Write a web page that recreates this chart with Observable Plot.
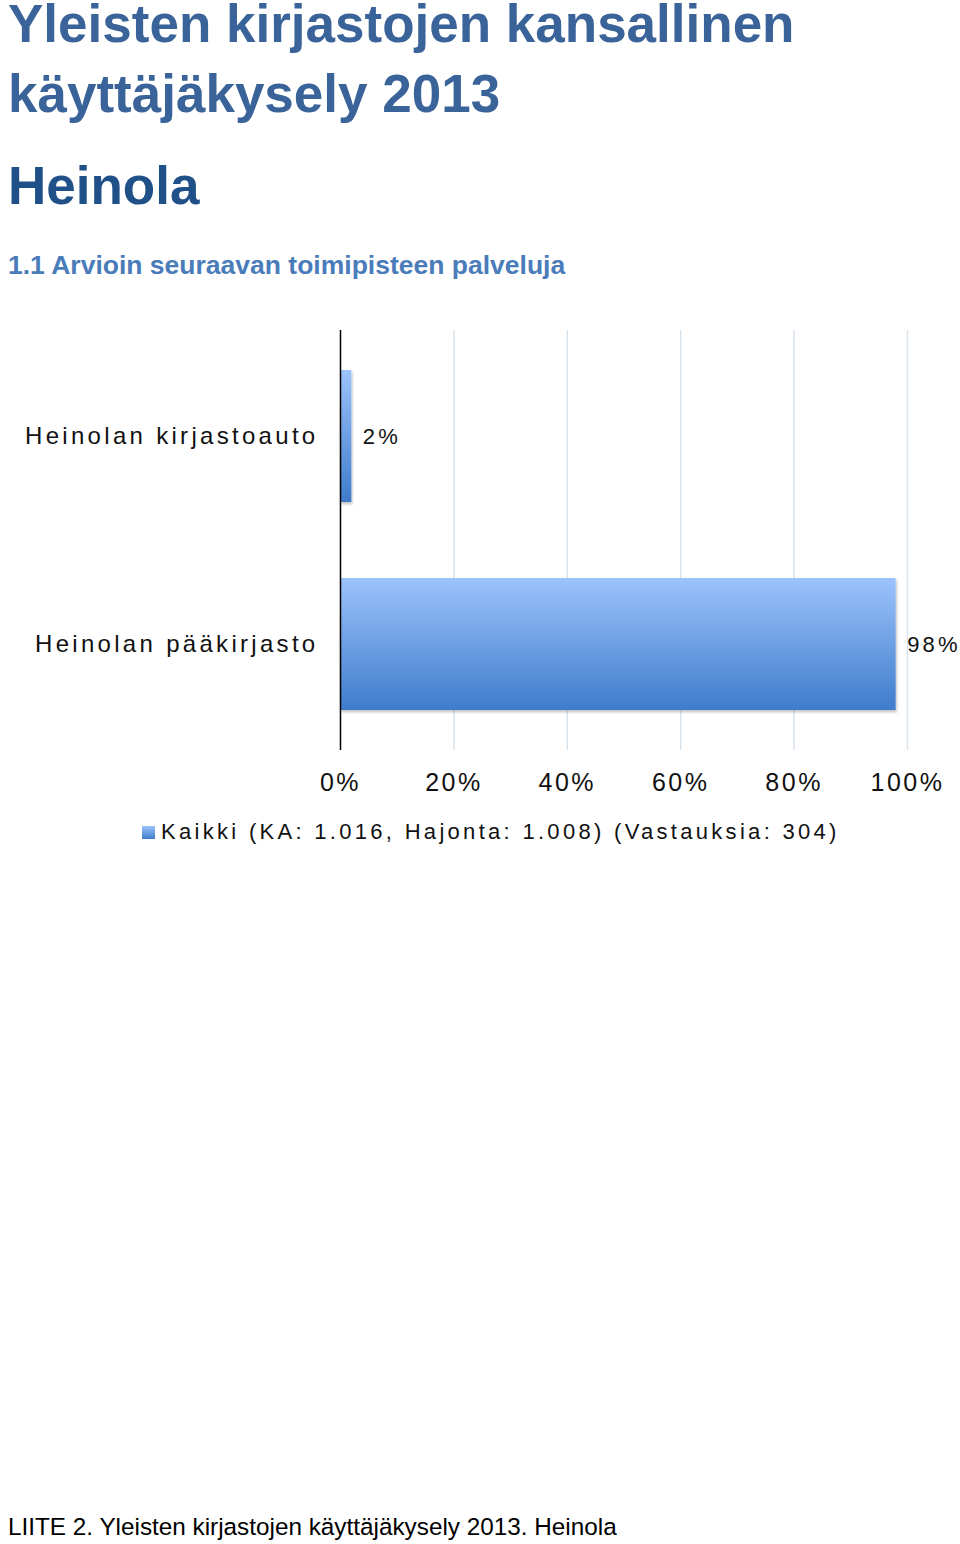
<!DOCTYPE html>
<html>
<head>
<meta charset="utf-8">
<script src="https://cdn.jsdelivr.net/npm/d3@7"></script>
<script src="https://cdn.jsdelivr.net/npm/@observablehq/plot@0.6"></script>
<style>
  html, body { margin: 0; padding: 0; background: #fff; }
  body { width: 960px; height: 1544px; position: relative; overflow: hidden; font-family: "Liberation Sans", Arial, Helvetica, sans-serif; }
  .abs { position: absolute; left: 8px; line-height: 1.15; white-space: nowrap; }
  .title { font-size: 53px; font-weight: bold; color: #3a6399; line-height: 0.92; }
  .place { font-size: 53px; font-weight: bold; color: #1f5088; line-height: 0.92; }
  .sub { font-size: 26.5px; font-weight: bold; color: #4a7cba; }
  .foot { font-size: 24.3px; color: #000; }
  #chart { position: absolute; left: 0; top: 320px; }
  #legend { position: absolute; left: 142px; top: 821px; display: flex; align-items: center; font-size: 22px; letter-spacing: 3.3px; color: #111; line-height: 1; white-space: nowrap; }
  #legend .sw { width: 13px; height: 13px; margin-right: 6px; background: linear-gradient(#9cc3fc, #3f7ccb); }
</style>
</head>
<body>
<div class="abs title" style="top:0px">Yleisten kirjastojen kansallinen</div>
<div class="abs title" style="top:70px">käyttäjäkysely 2013</div>
<div class="abs place" style="top:162px">Heinola</div>
<div class="abs sub" style="top:249.6px">1.1 Arvioin seuraavan toimipisteen palveluja</div>
<div id="chart"></div>
<div id="legend"></div>
<div class="abs foot" style="top:1513.4px">LIITE 2. Yleisten kirjastojen käyttäjäkysely 2013. Heinola</div>
<script>
// ---- data ----
const categories = ["Heinolan kirjastoauto", "Heinolan pääkirjasto"];
const values = [2, 98];
const xTicks = [0, 20, 40, 60, 80, 100];
const seriesName = "Kaikki (KA: 1.016, Hajonta: 1.008) (Vastauksia: 304)";

const data = categories.map((c, i) => ({category: c, value: values[i]}));

const svg = Plot.plot({
  width: 960,
  height: 480,
  marginLeft: 340,
  marginRight: 53,
  marginTop: 10,
  marginBottom: 50,
  style: {fontFamily: "'Liberation Sans', Arial, Helvetica, sans-serif", background: "transparent", color: "#000", overflow: "visible"},
  x: {domain: [0, 100]},
  y: {domain: categories, paddingInner: 0.366, paddingOuter: 0.188},
  marks: [
    Plot.gridX(xTicks.filter(d => d > 0), {stroke: "#d9e3ec", strokeOpacity: 1, strokeWidth: 1.5}),
    Plot.barX(data, {x: "value", y: "category", fill: "url(#barGrad)"}),
    Plot.ruleX([0], {stroke: "#000", strokeWidth: 1.5}),
    Plot.axisX(xTicks, {tickSize: 0, tickPadding: 23, fontSize: 25, tickFormat: d => d + "%", fill: "#111", label: null}),
    Plot.axisY({tickSize: 0, tickPadding: 22, fontSize: 24, fill: "#111", label: null}),
    Plot.text(data, {x: "value", y: "category", text: d => d.value + "%", dx: 11, textAnchor: "start", fontSize: 22, fill: "#111"})
  ]
});

// gradient + shadow definitions
const defs = d3.select(svg).insert("defs", ":first-child");
const g = defs.append("linearGradient").attr("id", "barGrad").attr("x1", 0).attr("y1", 0).attr("x2", 0).attr("y2", 1);
g.append("stop").attr("offset", "0%").attr("stop-color", "#9cc3fc");
g.append("stop").attr("offset", "100%").attr("stop-color", "#3f7ccb");
const f = defs.append("filter").attr("id", "shadow").attr("x", "-10%").attr("y", "-10%").attr("width", "130%").attr("height", "130%");
f.append("feDropShadow").attr("dx", 1).attr("dy", 2).attr("stdDeviation", 1.5).attr("flood-color", "#000").attr("flood-opacity", 0.25);
d3.select(svg).selectAll('g[aria-label="bar"] rect').attr("filter", "url(#shadow)");
d3.select(svg).selectAll('g[aria-label="x-axis tick label"] text').style("letter-spacing", "2.5px");
d3.select(svg).selectAll('g[aria-label="y-axis tick label"] text').style("letter-spacing", "3.3px");
d3.select(svg).selectAll('g[aria-label="text"] text').style("letter-spacing", "3.2px");

document.getElementById("chart").appendChild(svg);

const legend = document.getElementById("legend");
const sw = document.createElement("span");
sw.className = "sw";
legend.appendChild(sw);
const lt = document.createElement("span");
lt.textContent = seriesName;
legend.appendChild(lt);
</script>
</body>
</html>
